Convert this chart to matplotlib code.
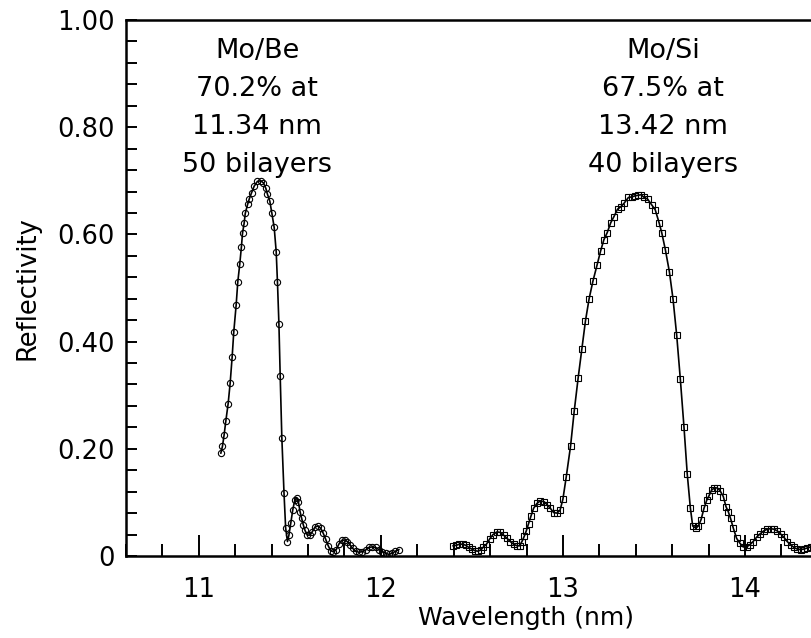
import numpy as np
import matplotlib
matplotlib.use('Agg')
import matplotlib.pyplot as plt
import matplotlib.ticker as mticker

plt.rcParams['font.family'] = ['DejaVu Sans']

# Mo/Be multilayer, 50 bilayers (circles)
mobe_wl = [11.121, 11.130, 11.139, 11.148, 11.161, 11.172, 11.183, 11.192, 11.205, 11.214,
           11.225, 11.234, 11.240, 11.249, 11.255, 11.268, 11.277, 11.290, 11.304, 11.322,
           11.341, 11.355, 11.368, 11.377, 11.390, 11.401, 11.414, 11.425, 11.432, 11.440,
           11.447, 11.456, 11.468, 11.477, 11.487, 11.495, 11.505, 11.516, 11.527, 11.537,
           11.547, 11.556, 11.565, 11.574, 11.583, 11.596, 11.610, 11.623, 11.638, 11.654,
           11.669, 11.684, 11.697, 11.711, 11.724, 11.739, 11.755, 11.769, 11.784, 11.801,
           11.816, 11.830, 11.846, 11.861, 11.879, 11.898, 11.916, 11.934, 11.953, 11.971,
           11.989, 12.008, 12.026, 12.044, 12.062, 12.080, 12.099]
mobe_r = [0.192, 0.205, 0.226, 0.251, 0.284, 0.322, 0.371, 0.418, 0.468, 0.511,
          0.545, 0.577, 0.602, 0.621, 0.639, 0.656, 0.666, 0.678, 0.690, 0.699,
          0.700, 0.696, 0.686, 0.675, 0.662, 0.640, 0.613, 0.568, 0.511, 0.433,
          0.336, 0.221, 0.117, 0.052, 0.027, 0.039, 0.061, 0.086, 0.104, 0.109,
          0.101, 0.083, 0.070, 0.058, 0.048, 0.039, 0.039, 0.045, 0.054, 0.056,
          0.052, 0.042, 0.031, 0.019, 0.010, 0.008, 0.012, 0.022, 0.029, 0.030,
          0.027, 0.021, 0.014, 0.009, 0.007, 0.008, 0.011, 0.016, 0.017, 0.016,
          0.012, 0.008, 0.005, 0.003, 0.005, 0.009, 0.012]

# Mo/Si multilayer, 40 bilayers (squares)
mosi_wl = [12.397, 12.415, 12.431, 12.450, 12.466, 12.483, 12.499, 12.516, 12.532, 12.549,
           12.561, 12.580, 12.598, 12.616, 12.638, 12.656, 12.674, 12.693, 12.711, 12.729,
           12.748, 12.762, 12.775, 12.788, 12.799, 12.811, 12.825, 12.839, 12.857, 12.876,
           12.898, 12.912, 12.931, 12.949, 12.967, 12.984, 13.000, 13.018, 13.042, 13.062,
           13.084, 13.104, 13.124, 13.144, 13.165, 13.187, 13.207, 13.225, 13.243, 13.263,
           13.280, 13.300, 13.320, 13.338, 13.360, 13.379, 13.397, 13.412, 13.430, 13.446,
           13.465, 13.488, 13.507, 13.529, 13.543, 13.563, 13.585, 13.605, 13.625, 13.645,
           13.665, 13.683, 13.700, 13.713, 13.731, 13.744, 13.759, 13.775, 13.790, 13.802,
           13.817, 13.832, 13.848, 13.863, 13.881, 13.896, 13.908, 13.921, 13.936, 13.954,
           13.972, 13.990, 14.009, 14.027, 14.045, 14.064, 14.082, 14.104, 14.122, 14.141,
           14.159, 14.177, 14.196, 14.214, 14.232, 14.251, 14.269, 14.287, 14.306, 14.324,
           14.342, 14.361, 14.380]
mosi_r = [0.019, 0.020, 0.022, 0.022, 0.020, 0.016, 0.013, 0.010, 0.009, 0.011,
          0.016, 0.022, 0.032, 0.040, 0.045, 0.044, 0.039, 0.033, 0.027, 0.022,
          0.019, 0.019, 0.027, 0.037, 0.047, 0.060, 0.075, 0.089, 0.098, 0.103,
          0.101, 0.096, 0.089, 0.081, 0.080, 0.085, 0.106, 0.147, 0.205, 0.270,
          0.333, 0.386, 0.439, 0.480, 0.513, 0.542, 0.569, 0.590, 0.603, 0.622,
          0.633, 0.647, 0.652, 0.659, 0.669, 0.670, 0.672, 0.673, 0.674, 0.669,
          0.666, 0.655, 0.646, 0.621, 0.603, 0.571, 0.530, 0.479, 0.412, 0.330,
          0.241, 0.153, 0.090, 0.056, 0.052, 0.056, 0.068, 0.089, 0.104, 0.112,
          0.123, 0.127, 0.127, 0.122, 0.111, 0.092, 0.083, 0.070, 0.052, 0.033,
          0.024, 0.017, 0.017, 0.021, 0.027, 0.035, 0.041, 0.047, 0.050, 0.051,
          0.050, 0.047, 0.041, 0.035, 0.027, 0.021, 0.016, 0.013, 0.012, 0.013,
          0.015, 0.017, 0.019]

ytick_vals = [0, 0.2, 0.4, 0.6, 0.8, 1.0]
ytick_labels = ['0', '0.20', '0.40', '0.60', '0.80', '1.00']
xtick_vals = [11, 12, 13, 14]

fig = plt.figure(figsize=(8.11, 6.38), dpi=100)
# axes run past the right edge of the picture (original was cropped)
ax = fig.add_axes([126/811, 82/638, (927-126)/811, 536/638])

ax.plot(mobe_wl, mobe_r, '-', color='black', lw=1.2,
        marker='o', ms=4.5, mfc='none', mec='black', mew=0.8)
ax.plot(mosi_wl, mosi_r, '-', color='black', lw=1.2,
        marker='s', ms=4.0, mfc='none', mec='black', mew=0.8)

ax.set_xlim(10.6, 15.0)
ax.set_ylim(0, 1.0)

ax.set_xticks(xtick_vals)
ax.xaxis.set_minor_locator(mticker.MultipleLocator(0.2))
ax.set_yticks(ytick_vals)
ax.set_yticklabels(ytick_labels)
ax.yaxis.set_minor_locator(mticker.MultipleLocator(0.04))

ax.tick_params(axis='x', which='major', direction='in', length=15, width=1.4,
               labelsize=18.5, pad=15)
ax.tick_params(axis='x', which='minor', direction='in', length=9, width=1.4)
ax.tick_params(axis='y', which='both', direction='in', length=8, width=1.4,
               labelsize=18.5, pad=8)

for s in ['left', 'bottom', 'top']:
    ax.spines[s].set_linewidth(1.8)
ax.spines['right'].set_visible(False)

ax.set_xlabel('Wavelength (nm)', fontsize=18, labelpad=2)
ax.set_ylabel('Reflectivity', fontsize=18.5, labelpad=12)

ax.text(11.32, 0.966, 'Mo/Be\n70.2% at\n11.34 nm\n50 bilayers', ha='center', va='top',
        fontsize=19.5, linespacing=1.6)
ax.text(13.55, 0.966, 'Mo/Si\n67.5% at\n13.42 nm\n40 bilayers', ha='center', va='top',
        fontsize=19.5, linespacing=1.6)

fig.savefig('out.png', dpi=100)
